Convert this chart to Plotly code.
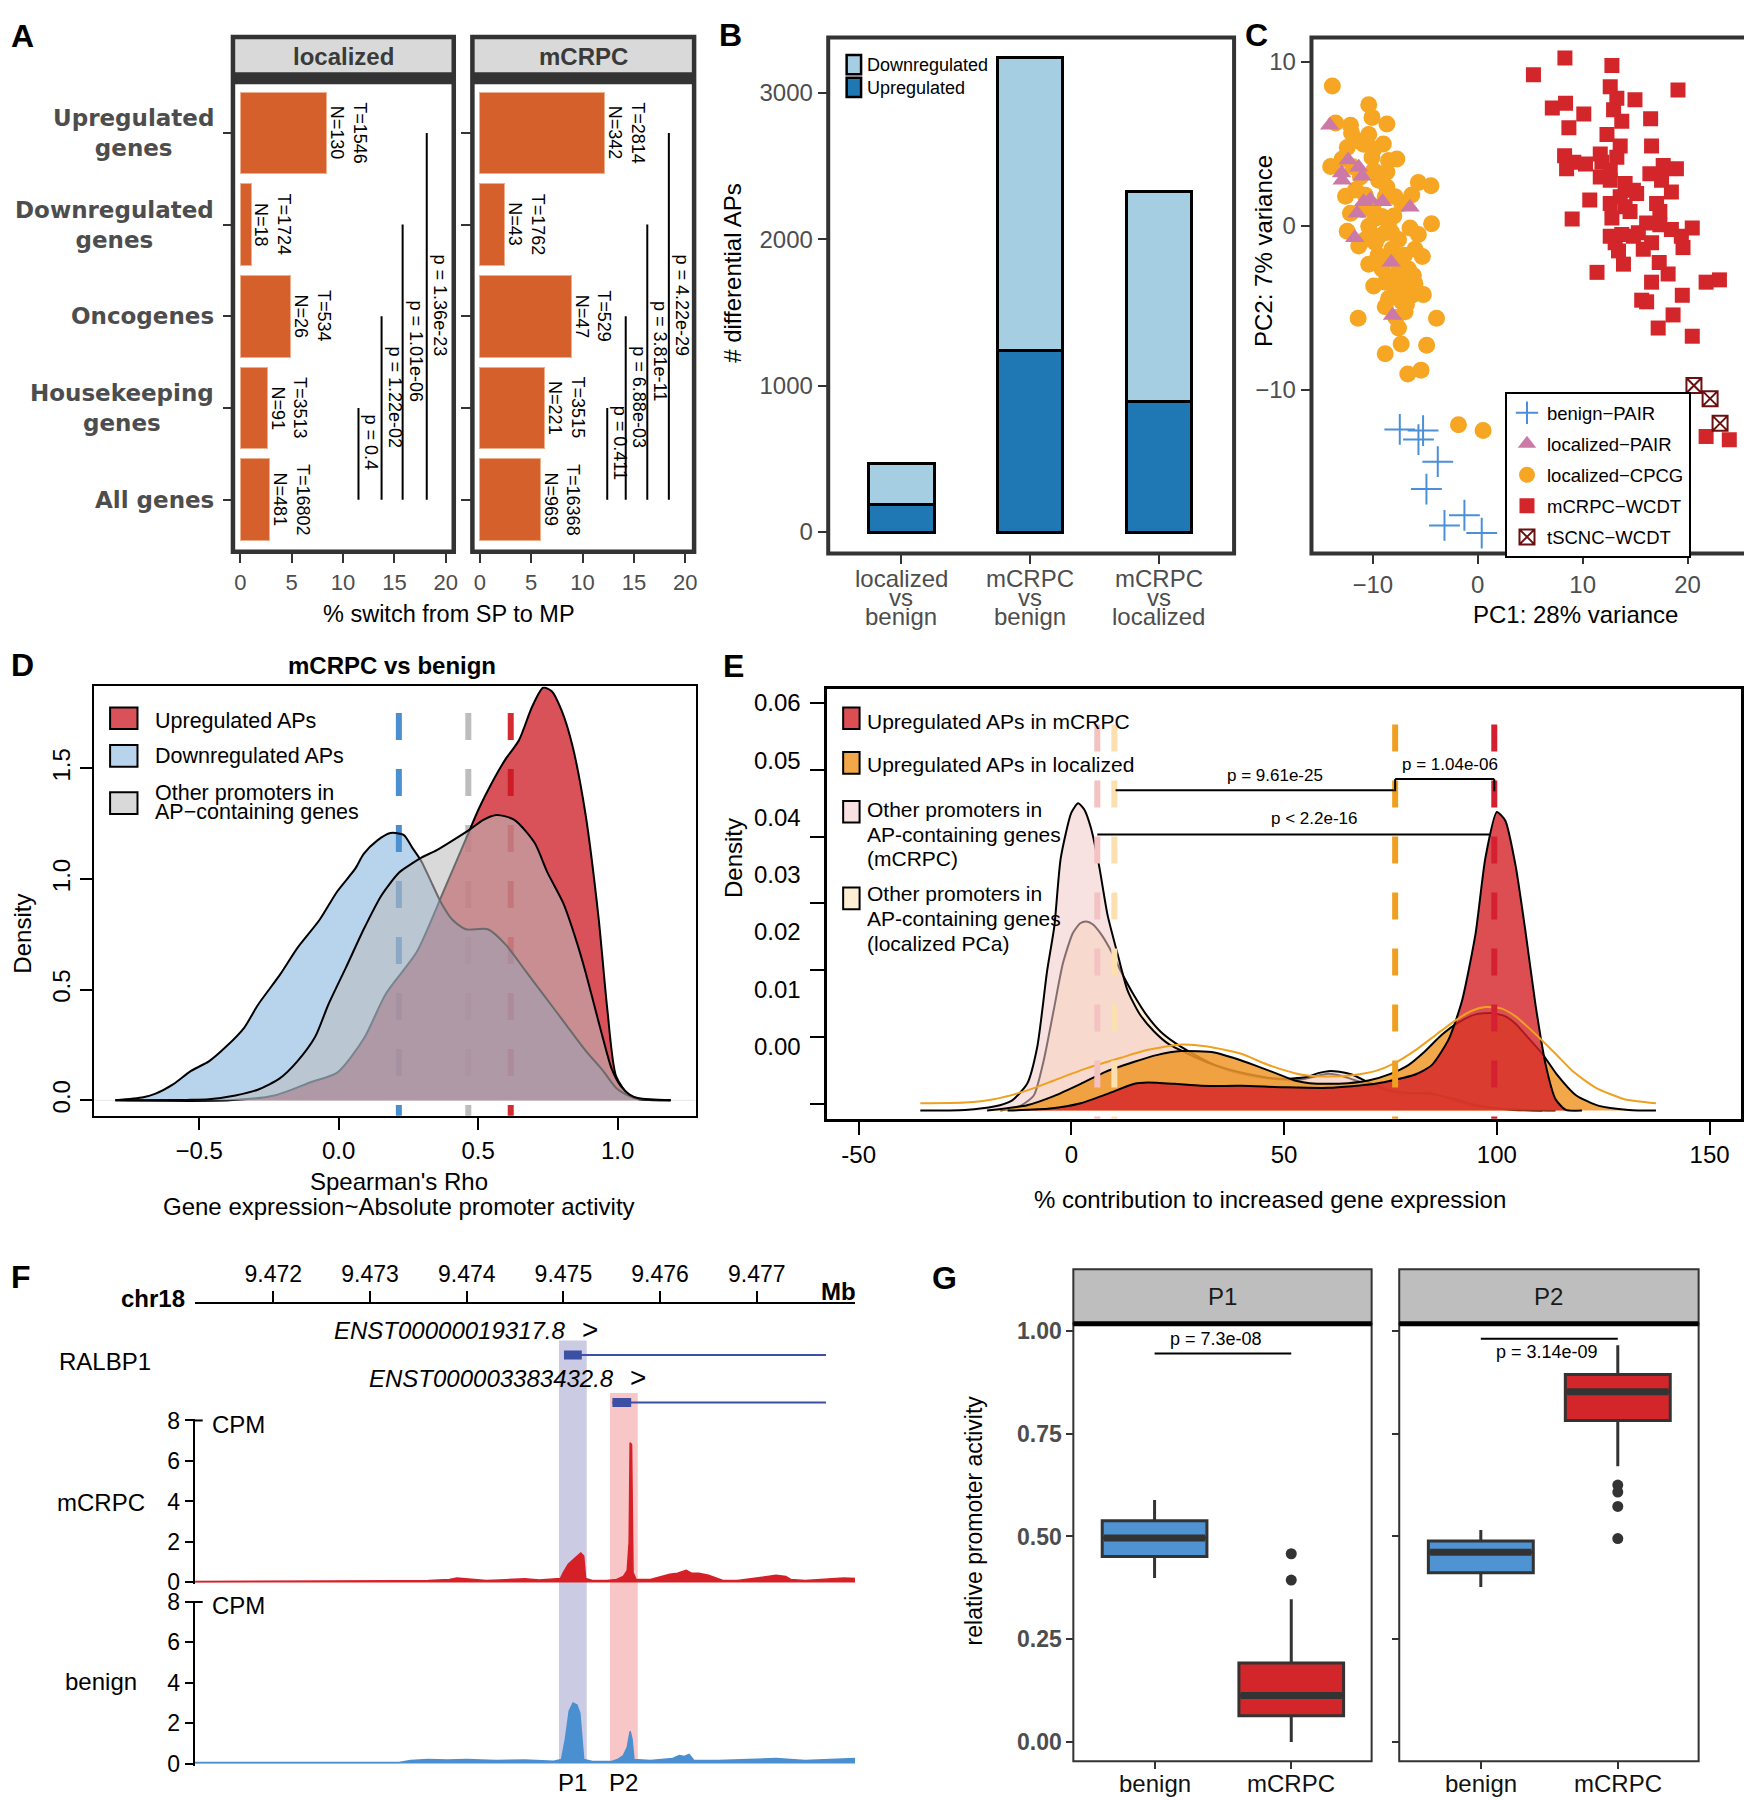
import plotly.graph_objects as go

W, H = 1752, 1800
FONT = "Liberation Sans, Arial, Helvetica, sans-serif"
LABEL_FONT = "DejaVu Sans, Verdana, sans-serif"
GREY_TXT = "#4d4d4d"
FRAME = "#333333"

# ============================ data ============================

# A: % of genes switching from a single (SP) to multiple promoters (MP)
a_categories = ["Upregulated<br>genes", "Downregulated<br>genes", "Oncogenes",
                "Housekeeping<br>genes", "All genes"]
a_loc_total = [1546, 1724, 534, 3513, 16802]
a_loc_switch = [130, 18, 26, 91, 481]
a_mcrpc_total = [2814, 1762, 529, 3515, 16368]
a_mcrpc_switch = [342, 43, 47, 221, 969]
a_loc_pvals = ["p = 1.36e-23", "p = 1.01e-06", "p = 1.22e-02", "p = 0.4"]
a_mcrpc_pvals = ["p = 4.22e-29", "p = 3.81e-11", "p = 6.88e-03", "p = 0.411"]
a_loc_bracket_x = [18.15, 15.8, 13.75, 11.5]
a_mcrpc_bracket_x = [18.4, 16.3, 14.2, 12.4]
a_xticks = [0, 5, 10, 15, 20]

# B: number of differential alternative promoters
b_comparisons = ["localized\nvs\nbenign", "mCRPC\nvs\nbenign", "mCRPC\nvs\nlocalized"]
b_upregulated = [186, 1238, 892]
b_downregulated = [280, 2004, 1437]
b_yticks = [0, 1000, 2000, 3000]

# C: PCA, (PC1, PC2) per sample
c_benign_pair = [(-7.43, -12.43), (-5.21, -12.50), (-5.65, -13.05), (-3.81, -14.40),
                 (-4.89, -16.07), (-1.27, -17.67), (-3.17, -18.29), (0.38, -18.76)]
c_localized_pair = [(-14.11, 6.14), (-12.35, 4.02), (-11.34, 3.58), (-12.98, 3.22),
                    (-11.02, 3.02), (-12.92, 2.78), (-10.87, 1.47), (-10.24, 1.61),
                    (-9.07, 1.47), (-6.45, 1.13), (-11.50, 0.77), (-11.72, -0.73),
                    (-8.25, -2.23), (-8.12, -5.48)]
c_localized_cpcg = [(-13.86, 8.53), (-10.39, 7.39), (-10.08, 6.62), (-8.66, 6.22), (-13.55, 6.28),
                    (-12.13, 6.14), (-12.03, 5.68), (-10.39, 5.58), (-12.44, 4.78), (-10.87, 4.98),
                    (-9.92, 4.68), (-10.08, 4.18), (-14.02, 3.62), (-12.92, 4.08), (-8.50, 3.98),
                    (-7.71, 4.08), (-8.66, 3.28), (-9.45, 2.78), (-5.66, 2.64), (-4.46, 2.44),
                    (-11.65, 2.18), (-8.66, 2.37), (-6.29, 1.88), (-7.24, 1.37), (-12.13, 0.77),
                    (-9.76, 0.47), (-8.50, 0.17), (-4.40, 0.13), (-12.44, -0.33), (-10.39, -0.03),
                    (-8.82, -0.43), (-7.55, -0.83), (-6.45, -0.13), (-5.66, -0.53), (-11.34, -1.23),
                    (-9.76, -1.03), (-8.19, -1.43), (-5.98, -1.43), (-5.28, -1.87), (-10.39, -2.34),
                    (-9.13, -2.64), (-7.55, -2.44), (-6.61, -2.64), (-6.13, -3.04), (-9.92, -3.68),
                    (-8.82, -3.44), (-7.87, -3.84), (-6.92, -3.54), (-5.98, -3.54), (-5.19, -4.20),
                    (-8.50, -4.44), (-7.24, -4.64), (-8.82, -4.94), (-6.92, -5.24), (-11.40, -5.64),
                    (-3.93, -5.64), (-7.55, -6.24), (-7.30, -7.21), (-4.87, -7.29), (-8.82, -7.81),
                    (-6.67, -9.05), (-5.41, -8.81), (-9.45, -0.63), (-8.19, -0.43), (-9.13, 0.57),
                    (-7.87, 1.77), (-10.71, 1.87), (-8.82, 1.77), (-11.18, 2.98), (-9.92, 3.38),
                    (-9.13, 3.18), (-7.87, -3.04), (-7.24, -4.04), (-6.29, -4.24), (-9.45, -2.24),
                    (-10.71, -0.83), (-11.0, 1.0), (-10.0, 1.2), (-9.5, -1.8), (-8.0, -2.0),
                    (-7.0, -1.8), (-6.8, -4.8), (-7.8, -5.6), (-11.9, 3.6), (-12.6, 1.8),
                    (-9.0, 5.0), (-11.5, 5.2), (-8.0, 0.6), (-1.84, -12.14), (0.51, -12.50)]
c_mcrpc_wcdt = [(5.31, 9.23), (8.31, 10.25), (12.79, 9.79), (19.09, 8.29), (7.11, 7.19),
                (8.37, 7.49), (10.11, 6.83), (8.69, 5.98), (12.63, 8.49), (13.26, 7.79),
                (14.99, 7.69), (12.95, 7.09), (13.73, 6.38), (16.48, 6.54), (12.32, 5.58),
                (13.58, 4.88), (16.57, 4.88), (8.28, 4.28), (9.16, 3.88), (10.27, 3.78),
                (8.47, 3.48), (11.84, 3.88), (12.63, 3.38), (13.26, 4.18), (16.41, 3.18),
                (17.68, 3.68), (18.94, 3.48), (17.52, 2.78), (12.63, 2.78), (14.05, 2.58),
                (15.15, 1.97), (18.46, 2.07), (10.68, 1.57), (12.63, 1.37), (14.05, 1.17),
                (17.05, 1.37), (9.00, 0.41), (12.79, 0.47), (14.52, 0.87), (17.36, 0.87),
                (17.36, 0.07), (18.46, -0.23), (20.45, -0.13), (19.41, -0.63), (12.63, -0.63),
                (13.73, -0.53), (15.31, -0.43), (16.57, -1.03), (13.42, -1.53), (19.57, -1.33),
                (11.37, -2.84), (13.89, -2.34), (17.30, -2.24), (18.15, -2.94), (16.57, -3.44),
                (15.63, -4.54), (16.10, -4.64), (21.77, -3.44), (23.04, -3.30), (19.50, -4.24),
                (18.62, -5.44), (17.20, -6.24), (20.45, -6.74), (21.77, -12.86), (23.98, -13.06),
                (11.68, 4.38), (11.68, 2.98), (14.84, 2.17), (13.58, 1.77), (16.10, 0.17),
                (14.84, -0.63), (13.10, -1.03), (15.78, -1.43)]
c_tscnc_wcdt = [(20.61, -9.75), (22.15, -10.55), (23.10, -12.06)]
c_xticks = [-10, 0, 10, 20]
c_yticks = [-20, -10, 0, 10]

# D: Spearman's rho densities, mCRPC vs benign
d_labels = ["Upregulated APs", "Downregulated APs", "Other promoters in\nAP\u2212containing genes"]
d_rho_up = [-0.80, -0.39, -0.23, -0.10, -0.005, 0.09, 0.17, 0.28, 0.376, 0.471, 0.503, 0.551, 0.598,
            0.646, 0.694, 0.733, 0.765, 0.80, 0.837, 0.884, 0.932, 0.963, 0.995, 1.043, 1.10, 1.19]
d_dens_up = [0, 0, 0.022, 0.082, 0.125, 0.278, 0.483, 0.67, 0.944, 1.225, 1.319, 1.439, 1.541,
             1.626, 1.78, 1.865, 1.848, 1.76, 1.609, 1.302, 0.824, 0.415, 0.108, 0.022, 0.004, 0]
d_rho_down = [-0.80, -0.70, -0.656, -0.592, -0.529, -0.465, -0.402, -0.338, -0.29, -0.21, -0.148,
              -0.068, -0.005, 0.059, 0.09, 0.138, 0.186, 0.233, 0.265, 0.297, 0.329, 0.368, 0.408,
              0.456, 0.535, 0.598, 0.67, 0.741, 0.813, 0.884, 0.948, 0.995, 1.043, 1.075, 1.19]
d_dens_down = [0, 0.014, 0.03, 0.073, 0.133, 0.176, 0.244, 0.329, 0.43, 0.568, 0.688, 0.816, 0.944,
               1.046, 1.114, 1.174, 1.208, 1.2, 1.14, 1.08, 0.995, 0.892, 0.816, 0.773, 0.773,
               0.705, 0.585, 0.466, 0.346, 0.227, 0.133, 0.056, 0.019, 0.005, 0]
d_rho_other = [-0.80, -0.544, -0.465, -0.37, -0.29, -0.211, -0.148, -0.084, -0.037, 0.027, 0.09,
               0.154, 0.217, 0.265, 0.297, 0.352, 0.408, 0.471, 0.519, 0.567, 0.63, 0.702, 0.749,
               0.805, 0.852, 0.884, 0.916, 0.948, 0.979, 1.011, 1.043, 1.075, 1.19]
d_dens_other = [0, 0.002, 0.005, 0.022, 0.048, 0.099, 0.176, 0.287, 0.432, 0.602, 0.773, 0.927,
                1.03, 1.072, 1.097, 1.131, 1.174, 1.225, 1.268, 1.29, 1.268, 1.165, 1.029, 0.892,
                0.722, 0.585, 0.432, 0.278, 0.142, 0.065, 0.026, 0.009, 0]
d_medians = [0.617, 0.216, 0.465]
d_xticks = [-0.5, 0.0, 0.5, 1.0]
d_yticks = [0.0, 0.5, 1.0, 1.5]

# E: % contribution to increased gene expression
e_labels = ["Upregulated APs in mCRPC", "Upregulated APs in localized",
            "Other promoters in\nAP-containing genes\n(mCRPC)",
            "Other promoters in\nAP-containing genes\n(localized PCa)"]
e_pct_up_mcrpc = [-15, -5, 2.2, 8.5, 14.8, 17.9, 24.2, 30.5, 40, 49.4, 60.4, 71.4, 80.8, 84.7, 88.7,
                  91.8, 95, 97.3, 100, 102, 104.4, 106.8, 109.1, 111.5, 113.8, 116.2, 120]
e_dens_up_mcrpc = [0, 0.0003, 0.0011, 0.0025, 0.004, 0.0042, 0.004, 0.0037, 0.0037, 0.0035, 0.0034,
                   0.004, 0.0054, 0.0068, 0.0107, 0.0164, 0.0265, 0.0378, 0.0447, 0.0434, 0.0367,
                   0.0265, 0.0158, 0.0068, 0.0017, 0.0001, 0]
e_pct_up_loc = [-19.8, -10.4, -4, 2.2, 8, 14.8, 20, 25.8, 33.6, 38, 43, 48, 52.5, 56, 60.4, 65, 69.8,
                75, 79.2, 83, 87, 91, 95, 98.9, 102, 104.4, 107.5, 110.7, 114, 118.6, 124, 131, 137.4]
e_dens_up_loc = [0, 0.0008, 0.0022, 0.004, 0.0058, 0.0073, 0.0083, 0.0089, 0.0087, 0.0079, 0.0068,
                 0.0056, 0.0045, 0.0041, 0.004, 0.0041, 0.0045, 0.0055, 0.0068, 0.0088, 0.0113,
                 0.0132, 0.0144, 0.0146, 0.0141, 0.013, 0.0108, 0.0085, 0.0055, 0.0023, 0.0007,
                 0.0001, 0]
e_pct_up_loc_line = [-35.5, -25, -18.2, -10, -4.1, 3, 11.6, 18, 25.8, 32, 39.9, 46, 52.5, 56, 60.4,
                     66, 71.4, 76, 80.8, 86, 90.3, 94, 97.3, 101, 104.4, 109, 113.8, 118, 123.3,
                     130, 137.4]
e_dens_up_loc_line = [0.0011, 0.0012, 0.0017, 0.0031, 0.0045, 0.0062, 0.0079, 0.0091, 0.0099,
                      0.0096, 0.0085, 0.0069, 0.0056, 0.0052, 0.0051, 0.0053, 0.0059, 0.0071,
                      0.009, 0.0115, 0.0135, 0.0149, 0.0155, 0.0153, 0.0141, 0.0115, 0.0085,
                      0.0058, 0.0034, 0.0017, 0.0011]
e_pct_other_mcrpc = [-35.5, -25, -18.2, -14, -10.4, -8, -5.7, -4, -2.5, 0, 1.6, 3, 4.6, 6.5, 8.5,
                     11, 13.2, 16, 19.5, 23, 27.4, 32, 36.8, 42, 47.8, 52, 55.7, 58, 60.4, 63,
                     65.9, 70, 74.5, 80, 84, 87, 90.3, 94, 98, 104, 110.7]
e_dens_other_mcrpc = [0, 0.0001, 0.0006, 0.0015, 0.004, 0.0096, 0.0209, 0.0276, 0.0378, 0.0446,
                      0.046, 0.0451, 0.0423, 0.0367, 0.0293, 0.0231, 0.018, 0.0145, 0.0118, 0.0099,
                      0.0085, 0.0072, 0.0062, 0.0054, 0.0048, 0.0048, 0.0051, 0.0056, 0.0059,
                      0.0058, 0.0054, 0.0042, 0.0031, 0.0026, 0.0025, 0.0022, 0.0017, 0.001,
                      0.0005, 0.0001, 0]
e_pct_other_loc = [-16.7, -12, -8.8, -6.5, -4.1, -2, 0.3, 2, 3.5, 5, 6.9, 9, 11.6, 14.5, 17.9, 21,
                   24.2, 28, 32.1, 37, 43, 48, 52.5, 56, 60.4, 64, 68.2, 73, 77.7, 81, 84, 88,
                   91.8, 96, 99.7, 113.8]
e_dens_other_loc = [0, 0.0007, 0.0023, 0.0075, 0.0152, 0.022, 0.0265, 0.028, 0.0283, 0.0279,
                    0.0265, 0.0243, 0.0209, 0.0175, 0.0141, 0.0118, 0.0102, 0.0087, 0.0073, 0.006,
                    0.0051, 0.0047, 0.0045, 0.0049, 0.0055, 0.0051, 0.0042, 0.0032, 0.0025,
                    0.0026, 0.0027, 0.0019, 0.0011, 0.0006, 0.0003, 0]
e_medians = [6.1, 10.1, 76.1, 99.4]   # other mCRPC, other localized, up localized, up mCRPC
e_pvals = ["p = 9.61e-25", "p = 1.04e-06", "p < 2.2e-16"]
e_xticks = [-50, 0, 50, 100, 150]
e_yticks = [0.00, 0.01, 0.02, 0.03, 0.04, 0.05, 0.06]

# F: RALBP1 locus, chr18 (Mb)
f_mb_ticks = [9.472, 9.473, 9.474, 9.475, 9.476, 9.477]
f_transcripts = ["ENST00000019317.8", "ENST000003383432.8"]
f_tx_start = [9.475006, 9.475507]
f_exon_end = [9.475190, 9.475701]
f_tx_end = [9.477716, 9.477716]
f_promoters = ["P1", "P2"]
f_prom_start = [9.474955, 9.475482]
f_prom_end = [9.475241, 9.475769]
f_mcrpc_cpm = [(9.47119, 0.05), (9.4730, 0.05), (9.4733, 0.08), (9.4736, 0.1), (9.47382, 0.15),
               (9.4739, 0.22), (9.47405, 0.15), (9.4742, 0.1), (9.47434, 0.12), (9.4745, 0.15),
               (9.4746, 0.18), (9.47475, 0.12), (9.4749, 0.15), (9.47497, 0.2), (9.47500, 0.5),
               (9.47505, 0.9), (9.47512, 1.2), (9.47518, 1.45), (9.47521, 1.3), (9.47523, 0.2),
               (9.4753, 0.1), (9.47545, 0.1), (9.47555, 0.15), (9.47562, 0.3), (9.47566, 0.6),
               (9.47568, 2.0), (9.47569, 6.9), (9.475705, 6.8), (9.47572, 0.5), (9.47575, 0.15),
               (9.4759, 0.15), (9.47602, 0.3), (9.4761, 0.4), (9.47618, 0.45), (9.47627, 0.6),
               (9.47633, 0.45), (9.4764, 0.45), (9.4765, 0.35), (9.47665, 0.1), (9.4768, 0.1),
               (9.47694, 0.2), (9.4771, 0.3), (9.4772, 0.35), (9.4773, 0.3), (9.47735, 0.15),
               (9.4775, 0.1), (9.47763, 0.15), (9.4778, 0.2), (9.4779, 0.22), (9.47802, 0.2)]
f_benign_cpm = [(9.47119, 0.05), (9.4733, 0.05), (9.47342, 0.15), (9.4736, 0.2), (9.4738, 0.18),
                (9.4740, 0.2), (9.4743, 0.15), (9.4746, 0.18), (9.4749, 0.12), (9.47498, 0.2),
                (9.47502, 1.2), (9.47506, 2.6), (9.47510, 3.0), (9.47514, 2.9), (9.47517, 2.5),
                (9.47519, 1.5), (9.47521, 0.2), (9.4753, 0.1), (9.4755, 0.1), (9.47556, 0.2),
                (9.47562, 0.4), (9.47566, 0.8), (9.47569, 1.6), (9.47571, 1.2), (9.47573, 0.2),
                (9.4759, 0.15), (9.47613, 0.25), (9.4762, 0.4), (9.47625, 0.35), (9.4763, 0.45),
                (9.47635, 0.15), (9.4766, 0.15), (9.4770, 0.2), (9.4772, 0.25), (9.4775, 0.15),
                (9.4778, 0.2), (9.47802, 0.25)]
f_cpm_ticks = [0, 2, 4, 6, 8]

# G: relative promoter activity (box statistics per promoter, per group)
g_groups = ["benign", "mCRPC"]
g_promoters = ["P1", "P2"]
g_q1 = [[0.451, 0.0636], [0.412, 0.782]]
g_median = [[0.4965, 0.113], [0.4617, 0.852]]
g_q3 = [[0.538, 0.1925], [0.4887, 0.894]]
g_lower = [[0.399, 0.0], [0.377, 0.671]]
g_upper = [[0.589, 0.347], [0.5157, 0.965]]
g_outliers = [[[], [0.458, 0.394]], [[], [0.625, 0.608, 0.573, 0.495]]]
g_pvals = ["p = 7.3e-08", "p = 3.14e-09"]
g_yticks = [0.0, 0.25, 0.5, 0.75, 1.0]

# ============================ helpers ============================

fig = go.Figure()
shapes, annotations, axes = [], [], {}


def px(x):
    return x / W


def py(y):
    return 1 - y / H


def dom_x(left, right):
    return [px(left), px(right)]


def dom_y(top, bottom):
    return [py(bottom), py(top)]


def axis(domain, rng, anchor, **kw):
    d = dict(domain=domain, range=rng, anchor=anchor, showgrid=False, zeroline=False,
             showline=False, ticks="", showticklabels=False, fixedrange=True)
    d.update(kw)
    return d


def note(x, y, text, size=24, color="black", family=FONT, angle=0,
         xanchor="center", yanchor="middle", xref="paper", yref="paper", **kw):
    annotations.append(dict(
        x=px(x) if xref == "paper" else x, y=py(y) if yref == "paper" else y,
        xref=xref, yref=yref, text=text, showarrow=False, textangle=angle,
        xanchor=xanchor, yanchor=yanchor,
        font=dict(size=size, color=color, family=family), **kw))


def rect(x0, y0, x1, y1, color="black", width=2, fill="rgba(0,0,0,0)", layer="above"):
    shapes.append(dict(type="rect", xref="paper", yref="paper", x0=px(x0), x1=px(x1),
                       y0=py(y1), y1=py(y0), fillcolor=fill, layer=layer,
                       line=dict(color=color, width=width)))


def seg(x0, y0, x1, y1, xref="paper", yref="paper", color="black", width=2, layer="above"):
    shapes.append(dict(type="line", xref=xref, yref=yref,
                       x0=px(x0) if xref == "paper" else x0, x1=px(x1) if xref == "paper" else x1,
                       y0=py(y0) if yref == "paper" else y0, y1=py(y1) if yref == "paper" else y1,
                       layer=layer, line=dict(color=color, width=width)))


def minus(s):
    return s.replace("-", "\u2212")


# ============================ A ============================
a_rows = list(range(len(a_categories)))
a_last = a_rows[-1]
a_facets = [("localized", a_loc_total, a_loc_switch, a_loc_pvals, a_loc_bracket_x,
             227.7, 445.2, [-0.45, 20.65], 222.6, 448.8),
            ("mCRPC", a_mcrpc_total, a_mcrpc_switch, a_mcrpc_pvals, a_mcrpc_bracket_x,
             466.6, 685.7, [-0.6, 20.65], 463.0, 690.1)]
for k, (name, total, switch, pvals, bracket_x, left, right, xr, outl, outr) in enumerate(a_facets):
    sfx = "" if k == 0 else "2"
    xa, ya = "x" + sfx, "y" + sfx
    axes["xaxis" + sfx] = axis(dom_x(left, right), xr, ya, ticks="outside", ticklen=12,
                               tickwidth=2, tickcolor=FRAME, tickvals=a_xticks, showticklabels=True,
                               tickfont=dict(size=22, color=GREY_TXT))
    axes["yaxis" + sfx] = axis(dom_y(65, 537), [4.549, -0.531], xa, ticks="outside", ticklen=12,
                               tickwidth=2, tickcolor=FRAME, tickvals=a_rows)
    pct = [100 * s / t for s, t in zip(switch, total)]
    fig.add_trace(go.Bar(x=pct, y=a_rows, orientation="h", width=0.89, showlegend=False,
                         marker=dict(color="#d6602b", line=dict(color="#eeb08c", width=1)),
                         xaxis=xa, yaxis=ya))
    for i, (v, s, t) in enumerate(zip(pct, switch, total)):
        for txt, shift in ((f"N={s}", 10.5), (f"T={t}", 33)):
            note(v, i, txt, size=18, angle=90, xref=xa, yref=ya, xshift=shift)
    for j, (p, bx) in enumerate(zip(pvals, bracket_x)):
        seg(bx, j, bx, a_last, xref=xa, yref=ya, width=2)
        note(bx, (j + a_last) / 2 - 0.12, p, size=18, angle=90, xref=xa, yref=ya,
             xanchor="left", xshift=1)
    rect(outl + 2, 17, outr - 2, 55, width=0, fill="#d9d9d9")
    rect(outl + 2, 53, outr - 2, 65, width=0, fill=FRAME)
    rect(outl + 2.25, 17.25, outr - 2.25, 538.75, color=FRAME, width=4.5)
    note((outl + outr) / 2, 37, f"<b>{name}</b>", size=24, color="#3a3a3a")

for i, cat in enumerate(a_categories):
    note(208, i, f"<b>{cat}</b>", size=23, color=GREY_TXT, family=LABEL_FONT,
         xanchor="right", yref="y", align="center")
note(442, 602, "% switch from SP to MP", size=23.5)

# ============================ B ============================
b_pos = list(range(len(b_comparisons)))
axes["xaxis3"] = axis(dom_x(823, 1230), [-0.565, 2.584], "y3", ticks="outside", ticklen=10,
                      tickwidth=2, tickcolor=FRAME, tickvals=b_pos)
axes["yaxis3"] = axis(dom_y(18, 540), [-143.7, 3378], "x3", ticks="outside", ticklen=10,
                      tickwidth=2, tickcolor=FRAME, tickvals=b_yticks, showticklabels=True,
                      tickfont=dict(size=24, color=GREY_TXT))
b_series = [("Downregulated", b_downregulated, "#a6cee3"), ("Upregulated", b_upregulated, "#1f78b4")]
for name, vals, col in reversed(b_series):
    fig.add_trace(go.Bar(x=b_pos, y=vals, width=0.507, name=name, showlegend=False,
                         marker=dict(color=col, line=dict(color="black", width=3)),
                         xaxis="x3", yaxis="y3"))
for (name, vals, col), top in zip(b_series, (35.5, 58.4)):
    rect(841, top, 855.5, top + 19.5, color="black", width=2.5, fill=col)
    note(859, top + 10, name, size=18, xanchor="left")
rect(822.5, 17.8, 1230, 540.4, color=FRAME, width=4)
for i, comp in enumerate(b_comparisons):
    for j, part in enumerate(comp.split("\n")):
        note(i, 566 + 19 * j, part, size=24, color=GREY_TXT, xref="x3")
note(727, 256, "# differential APs", angle=-90)

# ============================ C ============================
axes["xaxis4"] = axis(dom_x(1308, 1745), [-15.82, 25.67], "y4", ticks="outside", ticklen=10,
                      tickwidth=2, tickcolor=FRAME, tickvals=c_xticks, showticklabels=True,
                      tickfont=dict(size=24, color=GREY_TXT))
axes["yaxis4"] = axis(dom_y(18, 540), [-19.98, 11.48], "x4", ticks="outside", ticklen=10,
                      tickwidth=2, tickcolor=FRAME, tickvals=c_yticks, showticklabels=True,
                      tickfont=dict(size=24, color=GREY_TXT))
c_groups = [
    ("localized\u2212CPCG", c_localized_cpcg, dict(symbol="circle", size=17, color="#f6a623"), 3),
    ("localized\u2212PAIR", c_localized_pair, dict(symbol="triangle-up", size=17, color="#cc79a7"), 2),
    ("benign\u2212PAIR", c_benign_pair, dict(symbol="cross-thin-open", size=22, color="#4a90d9",
                                             line=dict(width=2, color="#4a90d9")), 1),
    ("mCRPC\u2212WCDT", c_mcrpc_wcdt, dict(symbol="square", size=15, color="#d3262b"), 4),
    ("tSCNC\u2212WCDT", c_tscnc_wcdt, dict(symbol="square-x-open", size=15, color="#6b1010",
                                            line=dict(width=2, color="#6b1010")), 5),
]
for name, pts, marker, rank in c_groups:
    fig.add_trace(go.Scatter(x=[p[0] for p in pts], y=[p[1] for p in pts], mode="markers",
                             name=name, marker=marker, legendrank=rank, legendgroup=name,
                             xaxis="x4", yaxis="y4"))
rect(1307.7, 17.8, 1745.5, 540.4, color=FRAME, width=4)
note(1573, 602, "PC1: 28% variance")
note(1259, 234, "PC2: 7% variance", angle=-90)

# ============================ D ============================
axes["xaxis5"] = axis(dom_x(85, 690), [-0.878, 1.282], "y5", showline=True, mirror=True,
                      linecolor="black", linewidth=2, ticks="outside", ticklen=12, tickwidth=2,
                      tickcolor="black", tickvals=d_xticks, showticklabels=True,
                      ticktext=[minus(f"{v:.1f}") for v in d_xticks], tickfont=dict(size=24))
axes["yaxis5"] = axis(dom_y(675, 1110), [-0.07, 1.871], "x5", showline=True, mirror=True,
                      linecolor="black", linewidth=2, ticks="outside", ticklen=12, tickwidth=2,
                      tickcolor="black", tickvals=d_yticks, showticklabels=True, tickangle=-90,
                      ticktext=[f"{v:.1f}" for v in d_yticks], tickfont=dict(size=24))
seg(86, 0, 689, 0, yref="y5", color="#e6e6e6", width=1, layer="below")
d_dash_colors = ["#d42a32", "#4a90d0", "#bdbdbd"]
for m, col in zip(d_medians, d_dash_colors):
    fig.add_trace(go.Scatter(x=[m, m], y=[1.751, -0.2], mode="lines", showlegend=False,
                             line=dict(color=col, width=6, dash="27px,29px"),
                             xaxis="x5", yaxis="y5"))
d_fills = ["rgba(204,24,35,0.75)", "rgba(78,148,208,0.4)", "rgba(188,188,188,0.57)"]
for xs, ys, col in zip((d_rho_up, d_rho_down, d_rho_other),
                       (d_dens_up, d_dens_down, d_dens_other), d_fills):
    fig.add_trace(go.Scatter(x=xs, y=ys, mode="lines", fill="tozeroy", fillcolor=col,
                             line=dict(color="black", width=2, shape="spline", smoothing=0.7),
                             showlegend=False, xaxis="x5", yaxis="y5"))
for label, col, top, first in zip(d_labels, d_fills, (696.3, 734.5, 782.2), (709.7, 746, 783.4)):
    rect(101.5, top, 129, top + 22, color="black", width=2, fill=col)
    for j, part in enumerate(label.split("\n")):
        note(144.7, first + 19 * j, part, size=21.5, xanchor="left")
note(385, 654, "<b>mCRPC vs benign</b>", size=24)
note(392, 1177, "Spearman's Rho")
note(392, 1202, "Gene expression~Absolute promoter activity")
note(13.5, 925, "Density", angle=-90)

# ============================ E ============================
axes["xaxis6"] = axis(dom_x(821, 1739), [-57.5, 157.4], "y6", showline=True, mirror=True,
                      linecolor="black", linewidth=2.5, ticks="outside", ticklen=13, tickwidth=2,
                      tickcolor="black", tickvals=e_xticks, showticklabels=True,
                      ticktext=[str(v) for v in e_xticks], tickfont=dict(size=24))
axes["yaxis6"] = axis(dom_y(678, 1113), [-0.00123, 0.06306], "x6", showline=True, mirror=True,
                      linecolor="black", linewidth=2.5, ticks="outside", ticklen=14, tickwidth=2,
                      tickcolor="black", tickvals=[v + 0.001 for v in e_yticks])
e_series = [  # bottom to top
    (e_pct_other_loc, e_dens_other_loc, "rgba(253,226,182,0.6)"),
    (e_pct_other_mcrpc, e_dens_other_mcrpc, "rgba(241,200,200,0.55)"),
    (e_pct_up_loc, e_dens_up_loc, "rgba(238,152,42,0.85)"),
    (e_pct_up_mcrpc, e_dens_up_mcrpc, "rgba(212,34,40,0.8)"),
]
for xs, ys, col in e_series:
    fig.add_trace(go.Scatter(x=xs, y=ys, mode="lines", fill="tozeroy", fillcolor=col,
                             line=dict(color="black", width=2, shape="spline", smoothing=0.6),
                             showlegend=False, xaxis="x6", yaxis="y6"))
fig.add_trace(go.Scatter(x=e_pct_up_loc_line, y=e_dens_up_loc_line, mode="lines",
                         line=dict(color="#f0a020", width=2, shape="spline", smoothing=0.6),
                         showlegend=False, xaxis="x6", yaxis="y6"))
e_dash_colors = ["#f4c2c2", "#fde0b0", "#f0a020", "#d42030"]
for m, col in zip(e_medians, e_dash_colors):
    fig.add_trace(go.Scatter(x=[m, m], y=[0.0578, -0.003], mode="lines", showlegend=False,
                             line=dict(color=col, width=6, dash="27px,29px"),
                             xaxis="x6", yaxis="y6"))
seg(10.4, 0.04794, 75.8, 0.04794, xref="x6", yref="y6")
note(47.8, 0.0502, e_pvals[0], size=17, xref="x6", yref="y6")
seg(76.1, 0.04962, 99.4, 0.04962, xref="x6", yref="y6")
seg(76.1, 0.04962, 76.1, 0.0478, xref="x6", yref="y6")
seg(99.4, 0.04962, 99.4, 0.0478, xref="x6", yref="y6")
note(89, 0.05177, e_pvals[1], size=17, xref="x6", yref="y6")
seg(6.1, 0.04133, 98.4, 0.04133, xref="x6", yref="y6")
note(57.2, 0.04371, e_pvals[2], size=17, xref="x6", yref="y6")
for k, v in enumerate(e_yticks):
    note(797, 1039.8 - 58.0 * k, f"{v:.2f}", size=24, xanchor="right")
e_legend_fill = ["rgba(212,34,40,0.8)", "rgba(238,152,42,0.85)",
                 "rgba(241,200,200,0.55)", "rgba(253,226,182,0.6)"]
for label, col, top, first in zip(e_labels, e_legend_fill, (696.3, 741.4, 791, 878.8),
                                  (710.5, 754.4, 799.4, 885.3)):
    rect(837.5, top, 854, top + 22, color="black", width=2, fill=col)
    for j, part in enumerate(label.split("\n")):
        note(859.3, first + 25.2 * j, part, size=21, xanchor="left")
note(1265.6, 1194.4, "% contribution to increased gene expression")
note(726.8, 849, "Density", angle=-90)

# ============================ F ============================
f_range = [9.471187, 9.478016]
axes["xaxis7"] = axis(dom_x(186.5, 849.4), f_range, "y7", side="top", showline=True,
                      linecolor="black", linewidth=2, ticks="outside", ticklen=11, tickwidth=2,
                      tickcolor="black", tickvals=f_mb_ticks, showticklabels=True,
                      ticktext=[f"{v:.3f}" for v in f_mb_ticks], tickfont=dict(size=23))
axes["yaxis7"] = axis(dom_y(1300.7, 1413), [1.259, -1.066], "x7")
for row, (name, start, exon_end, end) in enumerate(zip(f_transcripts, f_tx_start,
                                                       f_exon_end, f_tx_end)):
    fig.add_trace(go.Scatter(x=[start, end], y=[row, row], mode="lines", showlegend=False,
                             line=dict(color="#3b4fa5", width=2), xaxis="x7", yaxis="y7"))
    fig.add_trace(go.Scatter(x=[start, exon_end], y=[row, row], mode="lines", showlegend=False,
                             line=dict(color="#3b4fa5", width=9), xaxis="x7", yaxis="y7"))
    note(start, row, f"<i>{name}</i>", size=24, xref="x7", yref="y7", xanchor="right",
         xshift=4, yshift=24)
    note(start, row, ">", size=28, xref="x7", yref="y7", xanchor="left", xshift=16, yshift=25)
for name, r0, r1, top, col in zip(f_promoters, f_prom_start, f_prom_end, (1337.7, 1390.7),
                                  ("#cbcbe3", "#f8c6c6")):
    shapes.append(dict(type="rect", xref="x7", yref="paper", x0=r0, x1=r1, y0=py(1765),
                       y1=py(top), fillcolor=col, line=dict(width=0), layer="below"))
    note((r0 + r1) / 2, 1785, name, xref="x7")
note(179.2, 1295.3, "<b>chr18</b>", xanchor="right")
note(832.6, 1288, "<b>Mb</b>")
note(96.3, 1358.8, "RALBP1")

f_tracks = [("mCRPC", f_mcrpc_cpm, "#d62027", "8", (1417.6, 1584.7), 1418.6, 1501.3),
            ("benign", f_benign_cpm, "#4a90d0", "9", (1601.5, 1768.2), 1602.5, 1683.4)]
for name, cov, col, n, (top, bottom), top_tick, label_y in f_tracks:
    axes["xaxis" + n] = axis(dom_x(186.5, 849.4), f_range, "y" + n, visible=False)
    axes["yaxis" + n] = axis(dom_y(top, bottom), [-0.1, 8.05], "x" + n, showline=True,
                             linecolor="black", linewidth=2, ticks="outside", ticklen=8,
                             tickwidth=2, tickcolor="black", tickvals=f_cpm_ticks,
                             showticklabels=True, tickfont=dict(size=23))
    fig.add_trace(go.Scatter(x=[c[0] for c in cov], y=[c[1] for c in cov], mode="lines",
                             fill="tozeroy", fillcolor=col, line=dict(color=col, width=1.5),
                             showlegend=False, xaxis="x" + n, yaxis="y" + n))
    seg(186.5, top_tick, 194.5, top_tick, width=2)
    note(201.6, top_tick + 4, "CPM", xanchor="left")
    note(92.4, label_y, name)

# ============================ G ============================
g_pos = list(range(len(g_groups)))
g_colors = ["#4f93d2", "#d2262b"]
g_facets = [(1069.6, 1367, 1068.6, 1368.1, "10"), (1397, 1695, 1395.8, 1696.4, "11")]
for f, (left, right, outl, outr, n) in enumerate(g_facets):
    xa, ya = "x" + n, "y" + n
    axes["xaxis" + n] = axis(dom_x(left, right), [-0.587, 1.58], ya, ticks="outside", ticklen=8,
                             tickwidth=2, tickcolor=FRAME, tickvals=g_pos)
    axes["yaxis" + n] = axis(dom_y(1323, 1763), [-0.0449, 1.0118], xa, ticks="outside", ticklen=7,
                             tickwidth=2, tickcolor=FRAME, tickvals=g_yticks,
                             ticktext=[f"{v:.2f}" for v in g_yticks], showticklabels=(f == 0),
                             tickfont=dict(size=23, color=GREY_TXT, weight="bold"))
    for g, gx in enumerate(g_pos):
        fig.add_trace(go.Box(x=[gx], q1=[g_q1[f][g]], median=[g_median[f][g]], q3=[g_q3[f][g]],
                             lowerfence=[g_lower[f][g]], upperfence=[g_upper[f][g]],
                             width=0.766, whiskerwidth=0, boxpoints=False,
                             fillcolor=g_colors[g], line=dict(color=FRAME, width=3),
                             showlegend=False, xaxis=xa, yaxis=ya))
        fig.add_trace(go.Scatter(x=[gx - 0.37, gx + 0.37], y=[g_median[f][g]] * 2, mode="lines",
                                 line=dict(color=FRAME, width=7), showlegend=False,
                                 xaxis=xa, yaxis=ya))
        if g_outliers[f][g]:
            fig.add_trace(go.Scatter(x=[gx] * len(g_outliers[f][g]), y=g_outliers[f][g],
                                     mode="markers", marker=dict(color=FRAME, size=11),
                                     showlegend=False, xaxis=xa, yaxis=ya))
        note(gx, 1786, g_groups[g], size=24, color="#111111", xref=xa)
    rect(outl, 1265.5, outr, 1320.7, color=FRAME, width=2, fill="#bebebe")
    rect(outl, 1320.7, outr, 1763.9, color=FRAME, width=2)
    seg(outl, 1320.7, outr, 1320.7, color="black", width=5)
    note((outl + outr) / 2, 1293, g_promoters[f], size=24, color="#1a1a1a")

seg(0, 0.945, 1, 0.945, xref="x10", yref="y10")
note(0.45, 0.98, g_pvals[0], size=18, xref="x10", yref="y10")
seg(0, 0.981, 1, 0.981, xref="x11", yref="y11")
note(0.48, 0.948, g_pvals[1], size=18, xref="x11", yref="y11")
note(968.7, 1520, "relative promoter activity", size=23, angle=-90)

# ============================ panel letters ============================
for letter, x, y in (("A", 0, 16), ("B", 711, 15), ("C", 1239, 15), ("D", 0, 653.5),
                     ("E", 715, 654.5), ("F", 0, 1273.5), ("G", 925, 1274)):
    note(x, y, f"<b>{letter}</b>", size=32, xanchor="left")

fig.update_layout(
    width=W, height=H, margin=dict(l=0, r=0, t=0, b=0),
    paper_bgcolor="white", plot_bgcolor="rgba(0,0,0,0)",
    font=dict(family=FONT, size=20, color="black"),
    barmode="stack", showlegend=True,
    legend=dict(x=px(1502), y=py(377), xanchor="left", yanchor="top", bgcolor="white",
                bordercolor="black", borderwidth=2, font=dict(size=18.5), tracegroupgap=4),
    shapes=shapes, annotations=annotations, **axes)

fig.write_html("out.html")
